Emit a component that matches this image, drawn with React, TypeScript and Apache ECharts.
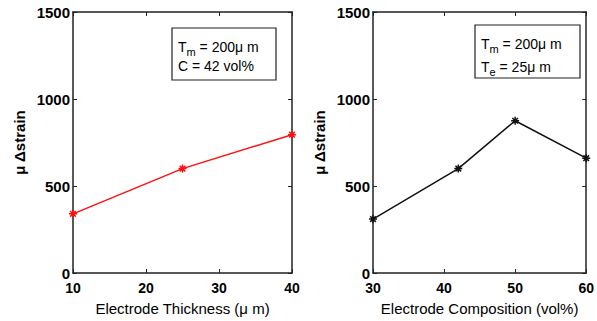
import React, { useEffect, useRef } from "react";
import * as echarts from "echarts";

const thicknessX = [10, 25, 40];
const thicknessStrain = [340, 600, 795];
const compositionX = [30, 42, 50, 60];
const compositionStrain = [310, 600, 875, 660];

const yTicksMin = 0;
const yTicksMax = 1500;
const yInterval = 500;
const leftXRange = [10, 40];
const rightXRange = [30, 60];

const yName = "μ Δstrain";
const leftXName = "Electrode Thickness (μ m)";
const rightXName = "Electrode Composition (vol%)";

const FONT = "'Liberation Sans', Arial, Helvetica, sans-serif";
const AXIS_COLOR = "#222";

const starSymbol =
  "path://M0,-10L0,10M-10,0L10,0M-7,-7L7,7M-7,7L7,-7";

const plain = (v: number) => String(v);

function mainX(gridIndex: number, range: number[], name: string) {
  return {
    type: "value",
    gridIndex,
    min: range[0],
    max: range[1],
    interval: 10,
    name,
    nameLocation: "middle",
    nameGap: 28,
    nameTextStyle: { color: "#000", fontSize: 15, fontFamily: FONT },
    axisLine: { show: true, onZero: false, lineStyle: { color: AXIS_COLOR, width: 1.5 } },
    axisTick: { show: true, inside: true, length: 4, lineStyle: { color: AXIS_COLOR } },
    axisLabel: {
      color: "#000",
      fontSize: 14,
      fontWeight: "bold",
      fontFamily: FONT,
      lineHeight: 13,
      margin: 8,
      formatter: plain,
    },
    splitLine: { show: false },
  };
}

function mirrorX(gridIndex: number, range: number[]) {
  return {
    type: "value",
    gridIndex,
    position: "top",
    min: range[0],
    max: range[1],
    interval: 10,
    axisLine: { show: true, onZero: false, lineStyle: { color: AXIS_COLOR, width: 1.5 } },
    axisTick: { show: true, inside: true, length: 4, lineStyle: { color: AXIS_COLOR } },
    axisLabel: { show: false },
    splitLine: { show: false },
  };
}

function mainY(gridIndex: number) {
  return {
    type: "value",
    gridIndex,
    min: yTicksMin,
    max: yTicksMax,
    interval: yInterval,
    name: yName,
    nameLocation: "middle",
    nameGap: 46,
    nameTextStyle: { color: "#000", fontSize: 15, fontWeight: "bold", fontFamily: FONT },
    axisLine: { show: true, onZero: false, lineStyle: { color: AXIS_COLOR, width: 1.5 } },
    axisTick: { show: true, inside: true, length: 4, lineStyle: { color: AXIS_COLOR } },
    axisLabel: {
      color: "#000",
      fontSize: 15,
      fontWeight: "bold",
      fontFamily: FONT,
      lineHeight: 13,
      margin: 3,
      padding: [0, 0, 9, 0],
      formatter: plain,
    },
    splitLine: { show: false },
  };
}

function mirrorY(gridIndex: number) {
  return {
    type: "value",
    gridIndex,
    position: "right",
    min: yTicksMin,
    max: yTicksMax,
    interval: yInterval,
    axisLine: { show: true, onZero: false, lineStyle: { color: AXIS_COLOR, width: 1.5 } },
    axisTick: { show: true, inside: true, length: 4, lineStyle: { color: AXIS_COLOR } },
    axisLabel: { show: false },
    splitLine: { show: false },
  };
}

const richStyles = {
  a: { fontSize: 14, fontFamily: FONT, color: "#000" },
  s: { fontSize: 11, fontFamily: FONT, color: "#000", padding: [10, 0, 0, 0] },
};

function annotation(x: number, y: number, w: number, h: number, line1: string, line2: string) {
  return {
    type: "group",
    children: [
      {
        type: "rect",
        shape: { x, y, width: w, height: h },
        style: { fill: "#fff", stroke: "#222", lineWidth: 1.2 },
      },
      {
        type: "text",
        x: x + 6,
        y: y + 8,
        style: { text: line1, rich: richStyles, verticalAlign: "top" },
      },
      {
        type: "text",
        x: x + 6,
        y: y + 31,
        style: { text: line2, rich: richStyles, verticalAlign: "top" },
      },
    ],
  };
}

export default function App() {
  const ref = useRef<HTMLDivElement>(null);
  useEffect(() => {
    if (!ref.current) return;
    const chart = echarts.init(ref.current, null, { renderer: "svg" });
    chart.setOption({
      animation: false,
      backgroundColor: "#fff",
      grid: [
        { left: 73, width: 219, top: 12, height: 263 },
        { left: 373, width: 219, top: 12, height: 263 },
      ],
      xAxis: [
        mainX(0, leftXRange, leftXName),
        mainX(1, rightXRange, rightXName),
        mirrorX(0, leftXRange),
        mirrorX(1, rightXRange),
      ],
      yAxis: [mainY(0), mainY(1), mirrorY(0), mirrorY(1)],
      series: [
        {
          type: "line",
          xAxisIndex: 0,
          yAxisIndex: 0,
          data: thicknessX.map((x, i) => [x, thicknessStrain[i]]),
          clip: false,
          symbol: starSymbol,
          symbolSize: 8,
          lineStyle: { color: "#ff1010", width: 1.5 },
          itemStyle: { color: "#ff1010", borderColor: "#ff1010", borderWidth: 1.5 },
          z: 3,
        },
        {
          type: "line",
          xAxisIndex: 1,
          yAxisIndex: 1,
          data: compositionX.map((x, i) => [x, compositionStrain[i]]),
          clip: false,
          symbol: starSymbol,
          symbolSize: 8,
          lineStyle: { color: "#111", width: 1.5 },
          itemStyle: { color: "#111", borderColor: "#111", borderWidth: 1.5 },
          z: 3,
        },
      ],
      graphic: [
        annotation(172, 28, 104, 52, "{a|T}{s|m}{a| = 200μ m}", "{a|C = 42 vol%}"),
        annotation(475, 25, 105, 53, "{a|T}{s|m}{a| = 200μ m}", "{a|T}{s|e}{a| = 25μ m}"),
      ],
    });
    return () => chart.dispose();
  }, []);
  return (
    <div
      ref={ref}
      style={{ position: "fixed", left: 0, top: 0, width: 597, height: 321, background: "#fff" }}
    />
  );
}
